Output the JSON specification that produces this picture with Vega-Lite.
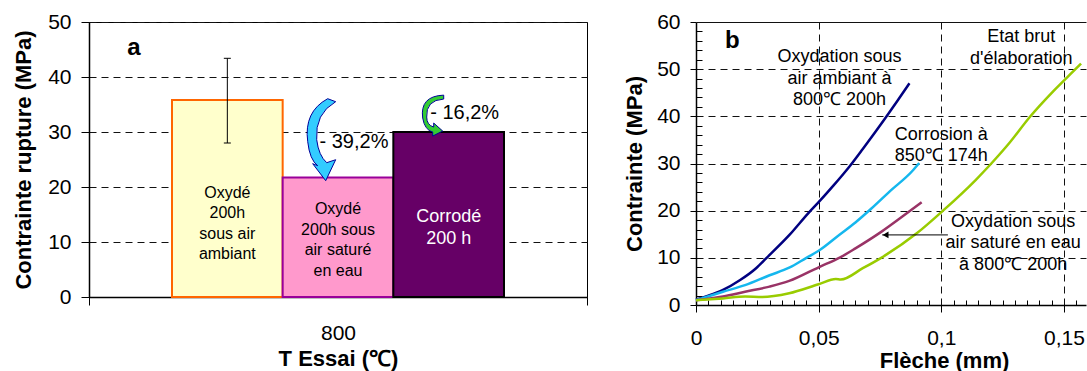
{
  "$schema": "https://vega.github.io/schema/vega-lite/v6.json",
  "padding": {"left": 12, "top": 10, "right": 0, "bottom": 0},
  "spacing": 35,
  "config": {
    "font": "Liberation Sans",
    "view": {"stroke": null},
    "axis": {
      "labelFont": "Liberation Sans", "titleFont": "Liberation Sans",
      "labelColor": "#000", "titleColor": "#000",
      "domainColor": "#000", "tickColor": "#000", "gridColor": "#111",
      "labelFontSize": 21, "titleFontSize": 22, "titleFontWeight": "bold",
      "domainWidth": 1.5, "tickWidth": 1, "gridWidth": 1
    }
  },
  "datasets": {
    "bars": [
      {"T": "800", "cond": "ambiant", "value": 35.8},
      {"T": "800", "cond": "sature", "value": 21.75},
      {"T": "800", "cond": "corrode", "value": 30.0}
    ],
    "err": [{"T": "800", "cond": "ambiant", "low": 28.0, "high": 43.4}],
    "barText": [
      {"T": "800", "cond": "ambiant", "label": "Oxydé\n200h\nsous air\nambiant", "y": 19.0},
      {"T": "800", "cond": "sature", "label": "Oxydé\n200h sous\nair saturé\nen eau", "y": 16.0}
    ],
    "barText2": [{"T": "800", "cond": "corrode", "label": "Corrodé\n200 h", "y": 14.6}],
    "pct": [
      {"T": "800", "cond": "sature", "label": "- 39,2%", "y": 28.2},
      {"T": "800", "cond": "corrode", "label": "- 16,2%", "y": 33.5}
    ],
    "arrowCyan": [{"T": "800", "y": 28.6}],
    "arrowGreen": [{"T": "800", "y": 32.9}],
    "panelA": [{"T": "800", "label": "a", "y": 45.2}],
    "curves": [
      {"series": "ambiant", "f": 0, "s": 1.2},
      {"series": "ambiant", "f": 0.005, "s": 2.0},
      {"series": "ambiant", "f": 0.011, "s": 3.2},
      {"series": "ambiant", "f": 0.018, "s": 5.3},
      {"series": "ambiant", "f": 0.0245, "s": 7.8},
      {"series": "ambiant", "f": 0.0288, "s": 10.0},
      {"series": "ambiant", "f": 0.038, "s": 14.8},
      {"series": "ambiant", "f": 0.046, "s": 19.6},
      {"series": "ambiant", "f": 0.05, "s": 21.8},
      {"series": "ambiant", "f": 0.056, "s": 25.3},
      {"series": "ambiant", "f": 0.062, "s": 29.0},
      {"series": "ambiant", "f": 0.068, "s": 33.1},
      {"series": "ambiant", "f": 0.077, "s": 39.5},
      {"series": "ambiant", "f": 0.082, "s": 43.2},
      {"series": "ambiant", "f": 0.087, "s": 47.0},
      {"series": "corrosion", "f": 0, "s": 1.0},
      {"series": "corrosion", "f": 0.011, "s": 2.8},
      {"series": "corrosion", "f": 0.02, "s": 4.2},
      {"series": "corrosion", "f": 0.03, "s": 6.3},
      {"series": "corrosion", "f": 0.038, "s": 7.9},
      {"series": "corrosion", "f": 0.045, "s": 10.0},
      {"series": "corrosion", "f": 0.05, "s": 11.5},
      {"series": "corrosion", "f": 0.0585, "s": 14.9},
      {"series": "corrosion", "f": 0.065, "s": 17.5},
      {"series": "corrosion", "f": 0.0714, "s": 20.4},
      {"series": "corrosion", "f": 0.079, "s": 24.1},
      {"series": "corrosion", "f": 0.088, "s": 28.3},
      {"series": "corrosion", "f": 0.091, "s": 30.1},
      {"series": "sature", "f": 0, "s": 1.0},
      {"series": "sature", "f": 0.011, "s": 1.8},
      {"series": "sature", "f": 0.02, "s": 2.8},
      {"series": "sature", "f": 0.03, "s": 3.9},
      {"series": "sature", "f": 0.038, "s": 5.1},
      {"series": "sature", "f": 0.05, "s": 8.0},
      {"series": "sature", "f": 0.0588, "s": 10.1},
      {"series": "sature", "f": 0.065, "s": 12.0},
      {"series": "sature", "f": 0.0755, "s": 15.5},
      {"series": "sature", "f": 0.084, "s": 18.7},
      {"series": "sature", "f": 0.092, "s": 21.8},
      {"series": "brut", "f": 0, "s": 1.0},
      {"series": "brut", "f": 0.011, "s": 1.4},
      {"series": "brut", "f": 0.02, "s": 1.8},
      {"series": "brut", "f": 0.027, "s": 1.7},
      {"series": "brut", "f": 0.038, "s": 2.5},
      {"series": "brut", "f": 0.05, "s": 4.4},
      {"series": "brut", "f": 0.057, "s": 5.5},
      {"series": "brut", "f": 0.059, "s": 5.4},
      {"series": "brut", "f": 0.068, "s": 7.8},
      {"series": "brut", "f": 0.0755, "s": 10.0},
      {"series": "brut", "f": 0.09, "s": 15.2},
      {"series": "brut", "f": 0.1007, "s": 20.0},
      {"series": "brut", "f": 0.114, "s": 26.5},
      {"series": "brut", "f": 0.1204, "s": 30.0},
      {"series": "brut", "f": 0.128, "s": 34.5},
      {"series": "brut", "f": 0.136, "s": 39.8},
      {"series": "brut", "f": 0.146, "s": 45.5},
      {"series": "brut", "f": 0.1551, "s": 50.2},
      {"series": "brut", "f": 0.157, "s": 51.2}
    ],
    "labelsB": [
      {"label": "Oxydation sous\nair ambiant à\n800℃ 200h", "f": 0.0585, "s": 52.5},
      {"label": "Etat brut\nd'élaboration", "f": 0.1326, "s": 56.75},
      {"label": "Corrosion à\n850℃ 174h", "f": 0.1, "s": 36.1},
      {"label": "Oxydation sous\nair saturé en eau\nà 800℃ 200h", "f": 0.1293, "s": 17.7}
    ],
    "panelB": [{"label": "b", "f": 0.0148, "s": 55.9}],
    "arrowB": [{"f1": 0.1027, "f2": 0.0759, "s": 14.86}],
    "arrowHeadB": [{"f": 0.0773, "s": 14.86}]
  },
  "hconcat": [
    {
      "width": 498,
      "height": 275,
      "view": {"stroke": "#000", "strokeWidth": 1},
      "layer": [
        {
          "data": {"name": "bars"},
          "mark": {"type": "bar", "strokeWidth": 2},
          "encoding": {
            "x": {
              "field": "T", "type": "nominal",
              "scale": {"paddingInner": 0, "paddingOuter": 0},
              "axis": {"title": "T Essai (℃)", "labelAngle": 0, "tickBand": "extent", "tickSize": 8, "labelPadding": 17, "titlePadding": 5, "grid": false}
            },
            "xOffset": {
              "field": "cond", "type": "nominal",
              "scale": {"domain": ["ambiant", "sature", "corrode"], "paddingInner": 0, "paddingOuter": 0.75}
            },
            "y": {
              "field": "value", "type": "quantitative",
              "scale": {"domain": [0, 50], "nice": false},
              "axis": {"title": "Contrainte rupture (MPa)", "values": [0, 10, 20, 30, 40, 50], "format": "d", "tickSize": 8, "labelPadding": 10, "titlePadding": 12, "grid": true, "gridDash": [7, 5], "labelOverlap": false}
            },
            "fill": {
              "field": "cond", "type": "nominal",
              "scale": {"domain": ["ambiant", "sature", "corrode"], "range": ["#FFFFCC", "#FF99CC", "#660066"]},
              "legend": null
            },
            "stroke": {
              "field": "cond", "type": "nominal",
              "scale": {"domain": ["ambiant", "sature", "corrode"], "range": ["#FF6600", "#990099", "#000000"]},
              "legend": null
            }
          }
        },
        {
          "data": {"name": "err"},
          "mark": {"type": "rule", "color": "#000", "strokeWidth": 1},
          "encoding": {
            "x": {"field": "T", "type": "nominal"},
            "xOffset": {"field": "cond", "type": "nominal"},
            "y": {"field": "low", "type": "quantitative"},
            "y2": {"field": "high"}
          }
        },
        {
          "data": {"name": "err"},
          "transform": [{"fold": ["low", "high"], "as": ["end", "v"]}],
          "mark": {"type": "tick", "color": "#000", "thickness": 1, "size": 7, "opacity": 1},
          "encoding": {
            "x": {"field": "T", "type": "nominal"},
            "xOffset": {"field": "cond", "type": "nominal"},
            "y": {"field": "v", "type": "quantitative"}
          }
        },
        {
          "data": {"name": "barText"},
          "mark": {"type": "text", "fontSize": 16, "lineBreak": "\n", "lineHeight": 20.6, "align": "center", "baseline": "middle", "color": "#000"},
          "encoding": {
            "x": {"field": "T", "type": "nominal"},
            "xOffset": {"field": "cond", "type": "nominal"},
            "y": {"field": "y", "type": "quantitative"},
            "text": {"field": "label"}
          }
        },
        {
          "data": {"name": "barText2"},
          "mark": {"type": "text", "fontSize": 18, "lineBreak": "\n", "lineHeight": 22.3, "align": "center", "baseline": "middle", "color": "#FFFFFF"},
          "encoding": {
            "x": {"field": "T", "type": "nominal"},
            "xOffset": {"field": "cond", "type": "nominal"},
            "y": {"field": "y", "type": "quantitative"},
            "text": {"field": "label"}
          }
        },
        {
          "data": {"name": "pct"},
          "mark": {"type": "text", "fontSize": 20, "align": "center", "baseline": "middle", "dx": 16, "color": "#000"},
          "encoding": {
            "x": {"field": "T", "type": "nominal"},
            "xOffset": {"field": "cond", "type": "nominal"},
            "y": {"field": "y", "type": "quantitative"},
            "text": {"field": "label"}
          }
        },
        {
          "data": {"name": "arrowCyan"},
          "mark": {
            "type": "point", "filled": true, "opacity": 1,
            "shape": "M 0.146 -1 Q -0.439 -0.683 -0.341 0.049 Q -0.293 0.488 -0.098 0.634 L -0.22 0.585 L 0.098 1 L 0.341 0.488 L 0.122 0.561 Q -0.073 0.39 -0.122 0 Q -0.171 -0.634 0.341 -0.927 Z",
            "size": 6724, "fill": "#33CCFF", "stroke": "#000099", "strokeWidth": 1, "xOffset": -16.3
          },
          "encoding": {
            "x": {"field": "T", "type": "nominal"},
            "y": {"field": "y", "type": "quantitative"}
          }
        },
        {
          "data": {"name": "arrowGreen"},
          "mark": {
            "type": "point", "filled": true, "opacity": 1,
            "shape": "M 0.488 -1.02 Q -0.683 -0.976 -0.537 0.098 Q -0.439 0.683 -0.049 0.78 L -0.049 0.976 L 0.439 0.732 L 0 0.341 L 0 0.537 Q -0.341 0.439 -0.341 0.049 Q -0.39 -0.78 0.488 -0.829 Z",
            "size": 1681, "fill": "#33CC33", "stroke": "#000099", "strokeWidth": 1, "xOffset": 95.7
          },
          "encoding": {
            "x": {"field": "T", "type": "nominal"},
            "y": {"field": "y", "type": "quantitative"}
          }
        },
        {
          "data": {"name": "panelA"},
          "mark": {"type": "text", "fontSize": 24, "fontWeight": "bold", "align": "center", "baseline": "middle", "dx": -204, "color": "#000"},
          "encoding": {
            "x": {"field": "T", "type": "nominal"},
            "y": {"field": "y", "type": "quantitative"},
            "text": {"field": "label"}
          }
        }
      ]
    },
    {
      "width": 390,
      "height": 283,
      "resolve": {"axis": {"x": "independent", "y": "independent"}},
      "layer": [
        {
          "data": {"name": "curves"},
          "mark": {"type": "line", "strokeWidth": 2.5, "interpolate": "monotone"},
          "encoding": {
            "x": {
              "field": "f", "type": "quantitative",
              "scale": {"domain": [0, 0.159], "nice": false, "zero": false},
              "axis": {
                "orient": "bottom",
                "title": "Flèche (mm)", "titleX": 248, "titleAlign": "center",
                "values": [0, 0.05, 0.1, 0.15],
                "labelExpr": "replace(format(datum.value, '~g'), '.', ',')",
                "tickSize": 7,
                "grid": true,
                "gridDash": [7, 5],
                "gridOpacity": {"condition": {"test": "datum.value > 0.01", "value": 1}, "value": 0},
                "labelOverlap": false, "labelFlush": false, "labelPadding": 15.6, "titlePadding": 1.5
              }
            },
            "y": {
              "field": "s", "type": "quantitative",
              "scale": {"domain": [0, 60], "nice": false},
              "axis": {
                "orient": "left",
                "title": "Contrainte (MPa)",
                "values": [0, 10, 20, 30, 40, 50, 60],
                "format": "d",
                "tickSize": 6,
                "grid": true,
                "gridOpacity": {"condition": {"test": "datum.value > 0", "value": 1}, "value": 0},
                "gridDash": {"condition": {"test": "datum.value === 60", "value": []}, "value": [7, 5]},
                "labelOverlap": false, "labelFlush": false, "labelPadding": 10, "titlePadding": 10
              }
            },
            "color": {
              "field": "series", "type": "nominal",
              "scale": {"domain": ["ambiant", "corrosion", "sature", "brut"], "range": ["#000080", "#15B7EE", "#993366", "#99CC00"]},
              "legend": null
            }
          }
        },
        {
          "data": {"name": "labelsB"},
          "mark": {"type": "text", "fontSize": 18, "lineBreak": "\n", "lineHeight": 21.5, "align": "center", "baseline": "middle", "color": "#000"},
          "encoding": {
            "x": {
              "field": "f", "type": "quantitative",
              "axis": {
                "orient": "bottom", "title": null, "labels": false, "domain": false, "grid": false,
                "values": [0.005, 0.01, 0.015, 0.02, 0.025, 0.03, 0.035, 0.04, 0.045, 0.055, 0.06, 0.065, 0.07, 0.075, 0.08, 0.085, 0.09, 0.095, 0.105, 0.11, 0.115, 0.12, 0.125, 0.13, 0.135, 0.14, 0.145, 0.155],
                "tickCount": 100, "tickSize": -5
              }
            },
            "y": {
              "field": "s", "type": "quantitative",
              "axis": {
                "orient": "left", "title": null, "labels": false, "domain": false, "grid": false,
                "values": [2, 4, 6, 8, 12, 14, 16, 18, 22, 24, 26, 28, 32, 34, 36, 38, 42, 44, 46, 48, 52, 54, 56, 58],
                "tickCount": 100, "tickSize": -6
              }
            },
            "text": {"field": "label"}
          }
        },
        {
          "data": {"name": "panelB"},
          "mark": {"type": "text", "fontSize": 24, "fontWeight": "bold", "align": "center", "baseline": "middle", "color": "#000"},
          "encoding": {
            "x": {"field": "f", "type": "quantitative", "axis": null},
            "y": {"field": "s", "type": "quantitative", "axis": null},
            "text": {"field": "label"}
          }
        },
        {
          "data": {"name": "arrowB"},
          "mark": {"type": "rule", "color": "#000", "strokeWidth": 1},
          "encoding": {
            "x": {"field": "f1", "type": "quantitative", "axis": null},
            "x2": {"field": "f2"},
            "y": {"field": "s", "type": "quantitative", "axis": null}
          }
        },
        {
          "data": {"name": "arrowHeadB"},
          "mark": {"type": "point", "shape": "triangle-left", "filled": true, "opacity": 1, "size": 45, "color": "#000"},
          "encoding": {
            "x": {"field": "f", "type": "quantitative", "axis": null},
            "y": {"field": "s", "type": "quantitative", "axis": null}
          }
        }
      ]
    }
  ]
}
